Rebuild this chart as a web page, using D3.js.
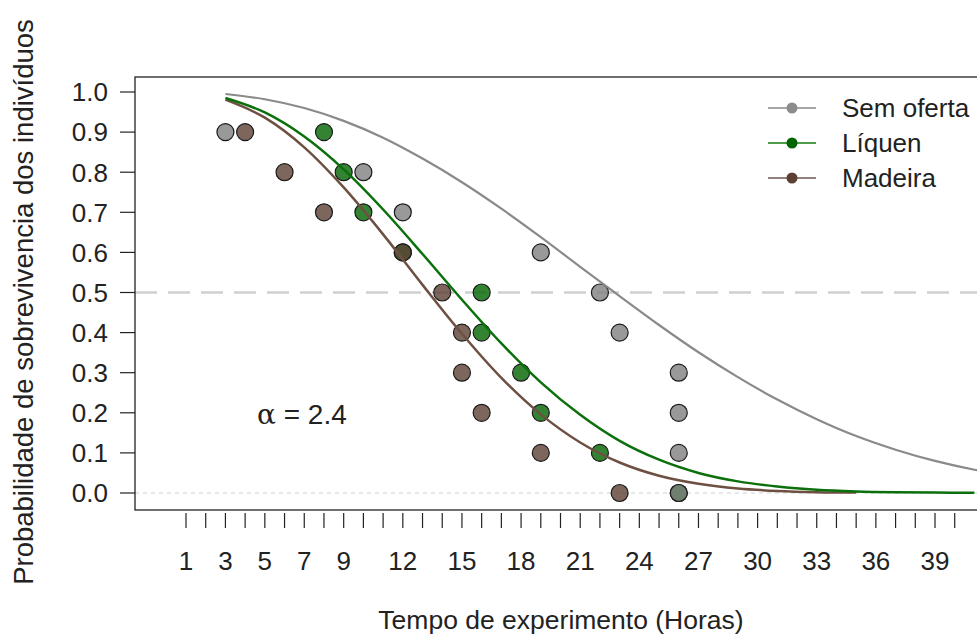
<!DOCTYPE html>
<html>
<head>
<meta charset="utf-8">
<script src="https://d3js.org/d3.v7.min.js"></script>
<style>
  body { margin: 0; background: #fff; }
  text { font-family: "Liberation Sans", Arial, sans-serif; fill: #222; }
</style>
</head>
<body>
<div id="chart"></div>
<script>
// observed points (hours, survival probability)
const probs = [0.9, 0.8, 0.7, 0.6, 0.5, 0.4, 0.3, 0.2, 0.1, 0.0];
const horasSem = [3, 10, 12, 19, 22, 23, 26, 26, 26, 26];
const horasLiq = [8, 9, 10, 12, 16, 16, 18, 19, 22, 26];
const horasMad = [4, 6, 8, 12, 14, 15, 15, 16, 19, 23];

// fitted curves
const curveHoras = [3, 5, 7, 9, 11, 13, 15, 17, 19, 21, 23, 25, 27, 29, 31, 33, 35, 37, 39, 41, 42];
const curveSem = [0.995, 0.982, 0.960, 0.928, 0.886, 0.834, 0.775, 0.709, 0.638, 0.564, 0.491, 0.419, 0.351, 0.289, 0.233, 0.184, 0.142, 0.108, 0.080, 0.058, 0.049];
const curveLiq = [0.985, 0.949, 0.889, 0.807, 0.707, 0.596, 0.482, 0.373, 0.276, 0.195, 0.130, 0.083, 0.050, 0.029, 0.016, 0.008, 0.004, 0.002, 0.001, 0.0005];
const curveMad = [0.981, 0.936, 0.862, 0.762, 0.645, 0.519, 0.397, 0.287, 0.196, 0.126, 0.076, 0.043, 0.023, 0.011, 0.005, 0.002, 0.001];

const xTicks = d3.range(1, 41);
const xLabels = [1, 3, 5, 7, 9, 12, 15, 18, 21, 24, 27, 30, 33, 36, 39];
const yTicks = [0, 0.1, 0.2, 0.3, 0.4, 0.5, 0.6, 0.7, 0.8, 0.9, 1.0];

const series = [
  { name: "Sem oferta", horas: horasSem, curve: curveSem, pt: "#808080", line: "#8a8a8a", leg: "#a6a6a6", legPt: "#8c8c8c" },
  { name: "Líquen", horas: horasLiq, curve: curveLiq, pt: "#006400", line: "#0b700b", leg: "#4c9c4c", legPt: "#006400" },
  { name: "Madeira", horas: horasMad, curve: curveMad, pt: "#5c4033", line: "#6e5042", leg: "#94807a", legPt: "#5c4033" }
];

const W = 977, H = 637;
const box = { left: 135, top: 77, right: 990, bottom: 510 };

const svg = d3.select("#chart").append("svg")
  .attr("width", W).attr("height", H);

const x = d3.scaleLinear().domain([1, 39]).range([186, 935]);
const y = d3.scaleLinear().domain([0, 1]).range([493, 92]);

// reference lines
svg.append("line")
  .attr("x1", box.left).attr("x2", box.right)
  .attr("y1", y(0.5)).attr("y2", y(0.5))
  .attr("stroke", "#cfcfcf").attr("stroke-width", 2.5)
  .attr("stroke-dasharray", "22 11");
svg.append("line")
  .attr("x1", box.left).attr("x2", box.right)
  .attr("y1", y(0)).attr("y2", y(0))
  .attr("stroke", "#d0d0d0").attr("stroke-width", 1)
  .attr("stroke-dasharray", "4 4");

// points: green, brown, then gray on top
[series[1], series[2], series[0]].forEach(s => {
  svg.append("g").selectAll("circle")
    .data(s.horas.map((h, i) => ({ h: h, p: probs[i] })))
    .join("circle")
    .attr("cx", d => x(d.h))
    .attr("cy", d => y(d.p))
    .attr("r", 8.5)
    .attr("fill", s.pt)
    .attr("fill-opacity", 0.8)
    .attr("stroke", "#1a1a1a")
    .attr("stroke-width", 1.2);
});

// curves
const line = d3.line()
  .x(d => x(d[0]))
  .y(d => y(d[1]))
  .curve(d3.curveMonotoneX);

[series[0], series[2], series[1]].forEach(s => {
  svg.append("path")
    .datum(s.curve.map((v, i) => [curveHoras[i], v]))
    .attr("fill", "none")
    .attr("stroke", s.line)
    .attr("stroke-width", s.name == "Sem oferta" ? 2.2 : 2.5)
    .attr("d", line);
});

// box
svg.append("rect")
  .attr("x", box.left).attr("y", box.top)
  .attr("width", box.right - box.left).attr("height", box.bottom - box.top)
  .attr("fill", "none").attr("stroke", "#222").attr("stroke-width", 1.3);

// y axis
const yAxis = svg.append("g");
yAxis.selectAll("line").data(yTicks).join("line")
  .attr("x1", 120).attr("x2", box.left)
  .attr("y1", d => y(d)).attr("y2", d => y(d))
  .attr("stroke", "#222").attr("stroke-width", 1.2);
yAxis.selectAll("text").data(yTicks).join("text")
  .attr("x", 108).attr("y", d => y(d))
  .attr("dy", "0.36em")
  .attr("text-anchor", "end")
  .style("font-size", "26px")
  .text(d => d.toFixed(1));

// x axis (ticks hang below the box)
const xAxis = svg.append("g");
xAxis.selectAll("line").data(xTicks).join("line")
  .attr("x1", d => x(d)).attr("x2", d => x(d))
  .attr("y1", 513).attr("y2", 528)
  .attr("stroke", "#222").attr("stroke-width", 1.2);
xAxis.selectAll("text").data(xLabels).join("text")
  .attr("x", d => x(d)).attr("y", 570)
  .attr("text-anchor", "middle")
  .style("font-size", "26px")
  .text(d => d);

// axis titles
svg.append("text")
  .attr("x", 561).attr("y", 629)
  .attr("text-anchor", "middle")
  .style("font-size", "26.5px")
  .text("Tempo de experimento (Horas)");
svg.append("text")
  .attr("transform", "translate(33,302) rotate(-90)")
  .attr("text-anchor", "middle")
  .style("font-size", "27.5px")
  .text("Probabilidade de sobrevivencia dos indivíduos");

// alpha annotation
const alpha = svg.append("text")
  .attr("x", 257).attr("y", 424)
  .style("font-size", "28px");
alpha.append("tspan").style("font-family", "'DejaVu Serif', serif").text("α");
alpha.append("tspan").text(" = 2.4");

// legend
const leg = svg.append("g");
series.forEach((s, i) => {
  const ly = 108 + i * 35;
  leg.append("line")
    .attr("x1", 768).attr("x2", 816)
    .attr("y1", ly).attr("y2", ly)
    .attr("stroke", s.leg).attr("stroke-width", 2);
  leg.append("circle")
    .attr("cx", 792).attr("cy", ly).attr("r", 5.5)
    .attr("fill", s.legPt);
  leg.append("text")
    .attr("x", 842).attr("y", ly)
    .attr("dy", "0.36em")
    .style("font-size", "26px")
    .text(s.name);
});
</script>
</body>
</html>
